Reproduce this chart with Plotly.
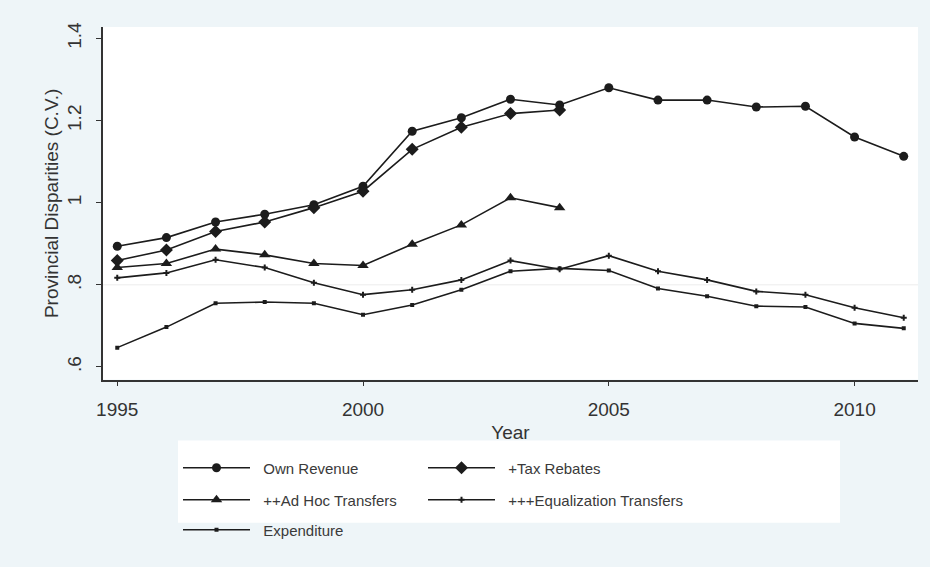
import plotly.graph_objects as go

# Coefficient of variation of provincial fiscal measures, 1995-2011
years = list(range(1995, 2012))
years_short = list(range(1995, 2005))

own_revenue = [0.894, 0.915, 0.953, 0.972, 0.995, 1.040, 1.174, 1.207, 1.252, 1.238,
               1.280, 1.250, 1.250, 1.233, 1.235, 1.160, 1.113]
tax_rebates = [0.859, 0.885, 0.930, 0.953, 0.988, 1.028, 1.130, 1.184, 1.217, 1.226]
ad_hoc = [0.842, 0.852, 0.887, 0.873, 0.852, 0.847, 0.899, 0.946, 1.012, 0.988]
equalization = [0.817, 0.829, 0.861, 0.842, 0.805, 0.776, 0.788, 0.812, 0.859, 0.838,
                0.871, 0.833, 0.812, 0.784, 0.776, 0.744, 0.720]
expenditure = [0.647, 0.697, 0.755, 0.758, 0.755, 0.727, 0.751, 0.788, 0.833, 0.840,
               0.835, 0.791, 0.772, 0.748, 0.746, 0.706, 0.694]

x_ticks = [1995, 2000, 2005, 2010]
y_ticks = [0.6, 0.8, 1.0, 1.2, 1.4]
y_tick_text = [".6", ".8", "1", "1.2", "1.4"]

LINE = "#1c1c1c"
BG = "#eef5f8"
FONT = "Liberation Sans, Arial, sans-serif"
PAD = "\u00a0\u00a0"

W, H = 930, 567
L, R, T, B = 103, 12, 27, 175

# (name, x, y, marker symbol, marker size, legend id, legend pixel position)
series = [
    ("Own Revenue", years, own_revenue, "circle", 9, "legend", (178, 468)),
    ("+Tax Rebates", years_short, tax_rebates, "diamond", 10, "legend2", (423, 468)),
    ("++Ad Hoc Transfers", years_short, ad_hoc, "triangle-up", 10, "legend3", (178, 500)),
    ("+++Equalization Transfers", years, equalization, "cross", 5, "legend4", (423, 500)),
    ("Expenditure", years, expenditure, "square", 4, "legend5", (178, 530)),
]

fig = go.Figure()
for name, xs, ys, sym, size, leg, _ in series:
    fig.add_trace(go.Scatter(
        x=xs, y=ys, name=PAD + name, mode="lines+markers",
        line=dict(color=LINE, width=1.6),
        marker=dict(symbol=sym, size=size, color=LINE, line=dict(width=0)),
        legend=leg,
    ))

legend_common = dict(
    orientation="h", bgcolor="rgba(0,0,0,0)", borderwidth=0,
    font=dict(family=FONT, size=15, color="#3a3a3a"),
    itemwidth=67,
    xref="container", yref="container", xanchor="left", yanchor="middle",
    itemclick=False, itemdoubleclick=False,
)
legends = {
    leg: dict(legend_common, x=px / W, y=1 - py / H)
    for _, _, _, _, _, leg, (px, py) in series
}

fig.update_layout(
    width=W, height=H,
    paper_bgcolor=BG, plot_bgcolor="white",
    margin=dict(l=L, r=R, t=T, b=B),
    font=dict(family=FONT, color="#333333"),
    showlegend=True,
    **legends,
    xaxis=dict(
        range=[1994.71, 2011.29], tickvals=x_ticks,
        showline=True, linecolor="#333333", linewidth=1.5, mirror=False,
        ticks="outside", ticklen=5, tickwidth=1.2, tickcolor="#333333",
        ticklabelstandoff=7,
        showgrid=False, zeroline=False,
        tickfont=dict(size=19, color="#333333"),
        title=dict(text="Year", font=dict(size=19, color="#333333"), standoff=6),
    ),
    yaxis=dict(
        range=[0.569, 1.428], tickvals=y_ticks, ticktext=y_tick_text,
        tickangle=-90,
        showline=True, linecolor="#333333", linewidth=1.5, mirror=False,
        ticks="outside", ticklen=5, tickwidth=1.2, tickcolor="#333333",
        ticklabelstandoff=8,
        showgrid=False, zeroline=False,
        tickfont=dict(size=19, color="#333333"),
        title=dict(text="Provincial Disparities (C.V.)",
                   font=dict(size=19, color="#333333"), standoff=0),
    ),
    shapes=[
        # faint reference line at .8
        dict(type="line", xref="paper", yref="y", x0=0, x1=1, y0=0.8, y1=0.8,
             line=dict(color="#ececec", width=1), layer="below"),
        # white legend panel
        dict(type="rect", xref="paper", yref="paper",
             x0=(178 - L) / (W - L - R), x1=(840 - L) / (W - L - R),
             y0=-(540 - (H - B)) / (H - T - B), y1=-(455 - (H - B)) / (H - T - B),
             fillcolor="white", line=dict(width=0), layer="below"),
    ],
)

fig.write_html("out.html")
